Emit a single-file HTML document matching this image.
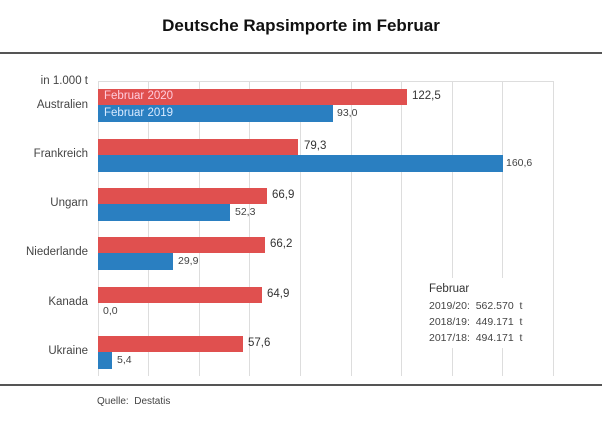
<!DOCTYPE html><html><head><style>
body{margin:0;width:602px;height:421px;background:#fff;font-family:"Liberation Sans",sans-serif;position:relative;overflow:hidden}
.a{position:absolute}
.r{position:absolute;background:#e0504f;height:16px;left:98px}
.b{position:absolute;background:#2a7fc1;height:17px;left:98px}
.g{position:absolute;top:81px;height:295px;width:1px;background:#ddd}
.l{position:absolute;right:514px;font-size:11.5px;color:#444;text-align:right;white-space:nowrap}
.v{position:absolute;font-size:11.5px;color:#333}
.vs{position:absolute;font-size:10.5px;color:#444}
</style></head><body>
<div class="a" style="left:0;width:602px;top:16px;text-align:center;font-weight:bold;font-size:17px;color:#111">Deutsche Rapsimporte im Februar</div>
<div class="a" style="left:0;width:602px;top:52px;height:2px;background:#555"></div>
<div class="a" style="left:0;width:602px;top:384px;height:2px;background:#555"></div>
<div class="a" style="left:98px;width:455px;top:81px;height:1px;background:#ddd"></div>
<div class="g" style="left:98px"></div><div class="g" style="left:148px"></div><div class="g" style="left:199px"></div><div class="g" style="left:249px"></div><div class="g" style="left:300px"></div><div class="g" style="left:351px"></div><div class="g" style="left:401px"></div><div class="g" style="left:452px"></div><div class="g" style="left:502px"></div><div class="g" style="left:553px"></div>
<div class="a" style="left:412px;top:278px;width:140px;height:70px;background:#fff"></div>
<div class="l" style="top:75px">in 1.000 t</div>
<div class="l" style="top:99px">Australien</div>
<div class="l" style="top:148px">Frankreich</div>
<div class="l" style="top:197px">Ungarn</div>
<div class="l" style="top:246px">Niederlande</div>
<div class="l" style="top:296px">Kanada</div>
<div class="l" style="top:345px">Ukraine</div>
<div class="r" style="top:89px;width:309px"></div><div class="b" style="top:105px;width:235px"></div>
<div class="a" style="left:104px;top:90px;font-size:11.5px;color:#fcd">Februar 2020</div>
<div class="a" style="left:104px;top:107px;font-size:11.5px;color:#d8eaff">Februar 2019</div>
<div class="v" style="left:412px;top:90px">122,5</div><div class="vs" style="left:337px;top:107px">93,0</div>
<div class="r" style="top:139px;width:200px"></div><div class="b" style="top:155px;width:405px"></div>
<div class="v" style="left:304px;top:140px">79,3</div><div class="vs" style="left:506px;top:157px">160,6</div>
<div class="r" style="top:188px;width:169px"></div><div class="b" style="top:204px;width:132px"></div>
<div class="v" style="left:272px;top:189px">66,9</div><div class="vs" style="left:235px;top:206px">52,3</div>
<div class="r" style="top:237px;width:167px"></div><div class="b" style="top:253px;width:75px"></div>
<div class="v" style="left:270px;top:238px">66,2</div><div class="vs" style="left:178px;top:255px">29,9</div>
<div class="r" style="top:287px;width:164px"></div>
<div class="v" style="left:267px;top:288px">64,9</div><div class="vs" style="left:103px;top:305px">0,0</div>
<div class="r" style="top:336px;width:145px"></div><div class="b" style="top:352px;width:14px"></div>
<div class="v" style="left:248px;top:337px">57,6</div><div class="vs" style="left:117px;top:354px">5,4</div>
<div class="a" style="left:429px;top:283px;font-size:11.5px;color:#333">Februar</div>
<div class="vs" style="left:429px;top:300px">2019/20:&nbsp; 562.570&nbsp; t</div>
<div class="vs" style="left:429px;top:316px">2018/19:&nbsp; 449.171&nbsp; t</div>
<div class="vs" style="left:429px;top:332px">2017/18:&nbsp; 494.171&nbsp; t</div>
<div class="a" style="left:97px;top:396px;font-size:10px;color:#444">Quelle:&nbsp; Destatis</div>
</body></html>
